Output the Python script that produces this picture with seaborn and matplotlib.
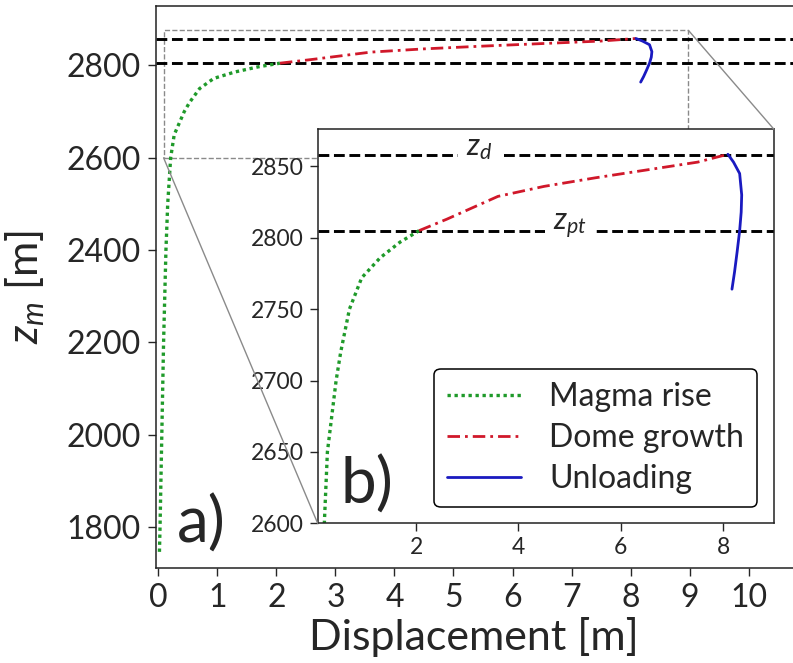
import numpy as np
import pandas as pd
import matplotlib
matplotlib.use("Agg")
import matplotlib.pyplot as plt
import seaborn as sns
from matplotlib.patches import Rectangle, ConnectionPatch

# ---------------- data ----------------
magma_x = [0.02, 0.03, 0.06, 0.09, 0.13, 0.16, 0.21, 0.27, 0.44, 0.53, 0.70, 0.94, 1.30, 1.69, 2.06]
magma_z = [1746, 1800, 2000, 2200, 2400, 2500, 2600, 2650, 2700, 2720, 2750, 2772, 2786, 2797, 2805]

dome_x = [2.06, 2.6, 3.1, 3.6, 4.5, 5.5, 6.5, 7.5, 8.09]
dome_z = [2805, 2813, 2821, 2829, 2836, 2842, 2847.5, 2853, 2858.5]

unload_x = [8.09, 8.2, 8.32, 8.36, 8.35, 8.32, 8.27, 8.22, 8.17]
unload_z = [2858.5, 2853, 2845, 2830, 2818, 2805, 2790, 2776, 2764]

z_d = 2858
z_pt = 2805

series_labels = ["Magma rise", "Dome growth", "Unloading"]
main_xticks = [0, 1, 2, 3, 4, 5, 6, 7, 8, 9, 10]
main_yticks = [1800, 2000, 2200, 2400, 2600, 2800]
inset_xticks = [2, 4, 6, 8]
inset_yticks = [2600, 2650, 2700, 2750, 2800, 2850]

# ---------------- style ----------------
sns.set_theme(style="ticks")
plt.rcParams["font.family"] = ["Lato", "DejaVu Sans"]
plt.rcParams["mathtext.fontset"] = "custom"
plt.rcParams["mathtext.rm"] = "Lato"
plt.rcParams["mathtext.it"] = "Lato:italic"
plt.rcParams["axes.edgecolor"] = "#222222"
plt.rcParams["axes.linewidth"] = 1.1

colors = ["#1f9a2a", "#d0182a", "#1a1ac0"]
styles = [(0, (1, 1.1)), (0, (4.5, 1.8, 1, 1.8)), "-"]
widths = [2.4, 2.0, 2.0]

frames = [
    pd.DataFrame({"disp": magma_x, "z": magma_z}),
    pd.DataFrame({"disp": dome_x, "z": dome_z}),
    pd.DataFrame({"disp": unload_x, "z": unload_z}),
]

fig = plt.figure(figsize=(7.93, 6.63), dpi=100)
ax = fig.add_axes([0.1963, 0.1433, 0.8037, 0.8477])


def draw(axis):
    for df, c, ls, lw, lab in zip(frames, colors, styles, widths, series_labels):
        sns.lineplot(data=df, x="disp", y="z", ax=axis, sort=False, estimator=None,
                     color=c, linestyle=ls, linewidth=lw, label=lab, legend=False)
    axis.axhline(z_d, color="black", ls="--", lw=2.1, zorder=1)
    axis.axhline(z_pt, color="black", ls="--", lw=2.1, zorder=1)


draw(ax)
ax.set_xlim(-0.044, 10.75)
ax.set_ylim(1711, 2929)
ax.set_xticks(main_xticks)
ax.set_yticks(main_yticks)
ax.tick_params(labelsize=23, length=6, width=1, pad=5)
ax.spines["right"].set_visible(False)
ax.set_xlabel("Displacement [m]", fontsize=31, labelpad=3)
ax.set_ylabel(r"$z_m$ [m]", fontsize=31)
ax.yaxis.set_label_coords(-0.17, 0.5)
ax.text(0.033, 0.045, "a)", transform=ax.transAxes, fontsize=46, ha="left", va="baseline")

# zoom rectangle
rx0, rx1, ry0, ry1 = 0.09, 8.98, 2600, 2876
ax.add_patch(Rectangle((rx0, ry0), rx1 - rx0, ry1 - ry0, fill=False, ec="#8a8a8a",
                       ls="--", lw=1.0, zorder=0.5))

# ---------------- inset ----------------
axi = fig.add_axes([0.4006, 0.2107, 0.5754, 0.5943])
axi.set_facecolor("white")
draw(axi)
axi.set_xlim(0.08, 8.99)
axi.set_ylim(ry0, ry1)
axi.set_xticks(inset_xticks)
axi.set_yticks(inset_yticks)
axi.tick_params(labelsize=16.5, length=6, width=1, pad=4)
axi.set_xlabel("")
axi.set_ylabel("")
axi.text(0.049, 0.051, "b)", transform=axi.transAxes, fontsize=46, ha="left", va="baseline")

axi.text(3.23, z_d, r"$z_d$", fontsize=22, ha="center", va="baseline", zorder=2.2,
         bbox=dict(boxstyle="square,pad=0.25", facecolor="white", edgecolor="none"))
axi.text(5.0, z_pt, r"$z_{pt}$", fontsize=22, ha="center", va="baseline", zorder=2.2,
         bbox=dict(boxstyle="square,pad=0.25", facecolor="white", edgecolor="none"))

leg_handles = [l for l in axi.get_lines() if l.get_label() in series_labels]
leg = axi.legend(handles=leg_handles, labels=series_labels, loc="lower right",
                 bbox_to_anchor=(0.9627, 0.0414), borderaxespad=0, fontsize=23,
                 frameon=True, fancybox=True, edgecolor="black", framealpha=1,
                 handlelength=2.3, handletextpad=0.9, labelspacing=0.35, borderpad=0.4)
leg.get_frame().set_linewidth(1.1)

# connector lines
for pa, pb in [((rx1, ry1), (1, 1)), ((rx0, ry0), (0, 0))]:
    cp = ConnectionPatch(xyA=pa, coordsA=ax.transData, xyB=pb, coordsB=axi.transAxes,
                         color="#8a8a8a", lw=1.0)
    fig.add_artist(cp)

fig.savefig("out.png", dpi=100)
